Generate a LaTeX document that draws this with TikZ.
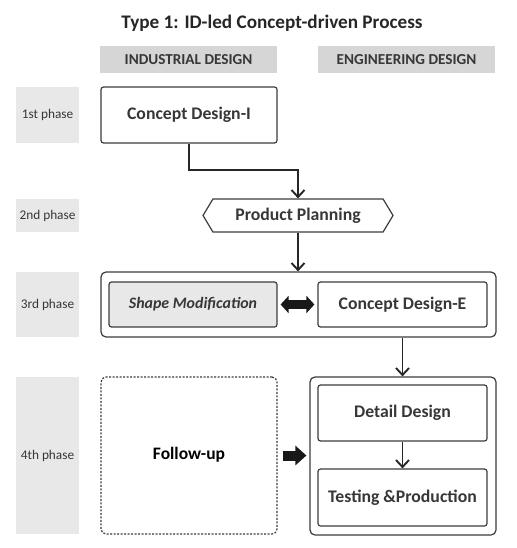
\documentclass[tikz,border=0pt]{standalone}
\usepackage{fontspec}
\setmainfont{Carlito}
\usepackage{xcolor}
\usepackage{tikz}
\usetikzlibrary{arrows.meta,positioning,shapes.symbols,calc}
\definecolor{LineGray}{RGB}{60, 60, 60}
\definecolor{TextGray}{RGB}{55, 55, 55}
\definecolor{PhaseBg}{RGB}{232, 232, 232}
\definecolor{HeadBg}{RGB}{214, 214, 214}

\begin{document}
\begin{tikzpicture}[
  x=1pt, y=-1pt,
  every node/.style={font=\bfseries, text=TextGray},
  phase/.style={rectangle, fill=PhaseBg, minimum width=63pt, inner sep=0pt, font=\fontsize{13.3}{16}\selectfont, text=TextGray},
  head/.style={rectangle, fill=HeadBg, minimum width=177pt, minimum height=27pt, inner sep=0pt, font=\bfseries\fontsize{15.2}{18}\selectfont},
  box/.style={rectangle, rounded corners=2.5pt, draw=LineGray, line width=1.2pt, fill=white, minimum width=169pt, inner sep=0pt, font=\bfseries\fontsize{17.7}{21}\selectfont},
  group/.style={rectangle, rounded corners=5pt, draw=LineGray, line width=1.2pt, inner sep=0pt},
  conn/.style={->, >={Straight Barb[length=7pt,width=13pt]}, line width=1.9pt, draw=black!85},
  fat/.style={line width=9pt, draw=black!90}
]
\useasboundingbox (0,0) rectangle (516,548);
\node[font=\bfseries\fontsize{19.2}{23}\selectfont, text=black!85] (title) at (272, 23) {Type 1: ID-led Concept-driven Process};

\node[head] (hdrI) at (188.5, 59.5) {INDUSTRIAL DESIGN};
\node[head] (hdrE) at (406.5, 59.5) {ENGINEERING DESIGN};

\node[phase, minimum height=56pt] (ph1) at (47.5, 115) {1st phase};
\node[phase, minimum height=33pt] (ph2) at (47.5, 215.5) {2nd phase};
\node[phase, minimum height=65pt] (ph3) at (47.5, 304.5) {3rd phase};
\node[phase, minimum height=157pt] (ph4) at (47.5, 455.5) {4th phase};

\node[box, minimum width=176pt, minimum height=56pt] (cdI) at (189, 115) {Concept Design-I};
\node[signal, signal to=east and west, signal pointer angle=118, draw=LineGray, line width=1.2pt, minimum width=190pt, minimum height=33pt, inner sep=0pt, font=\bfseries\fontsize{17.7}{21}\selectfont] (pp) at (298, 215.5) {Product Planning};

\node[group, minimum width=395pt, minimum height=65pt] (c3) at (298.5, 304.5) {};
\node[box, fill=PhaseBg, minimum width=168pt, minimum height=45pt, font=\bfseries\itshape\fontsize{15.9}{19}\selectfont] (sm) at (193, 304.5) {Shape Modification};
\node[box, minimum height=45pt] (cdE) at (402.5, 304.5) {Concept Design-E};

\node[group, dashed, dash pattern=on 2pt off 1.5pt, minimum width=176pt, minimum height=157pt, font=\bfseries\fontsize{17.5}{21}\selectfont, text=black] (fu) at (189, 455.5) {\raisebox{5pt}{Follow-up}};
\node[group, minimum width=186pt, minimum height=158pt] (c4) at (403, 456) {};
\node[box, minimum height=56pt] (dd) at (402.5, 413) {Detail Design};
\node[box, minimum height=57pt] (tp) at (402.5, 497.5) {Testing \&Production};

\draw[conn] (cdI.south) -- ++(0, 26) -| (pp.north);
\draw[conn] (pp.south) -- (c3.north -| pp.south);
\draw[conn] (cdE |- c3.south) -- (c4.north -| cdE);
\draw[conn] (dd) -- (tp);
\draw[fat, {Triangle[length=8pt,width=17pt]}-{Triangle[length=8pt,width=17pt]}, shorten <=3pt, shorten >=3pt] (sm) -- (cdE);
\draw[fat, line width=10pt, -{Triangle[length=11pt,width=19pt]}, shorten <=5pt, shorten >=3pt] (fu) -- (fu -| c4.west);
\end{tikzpicture}
\end{document}
